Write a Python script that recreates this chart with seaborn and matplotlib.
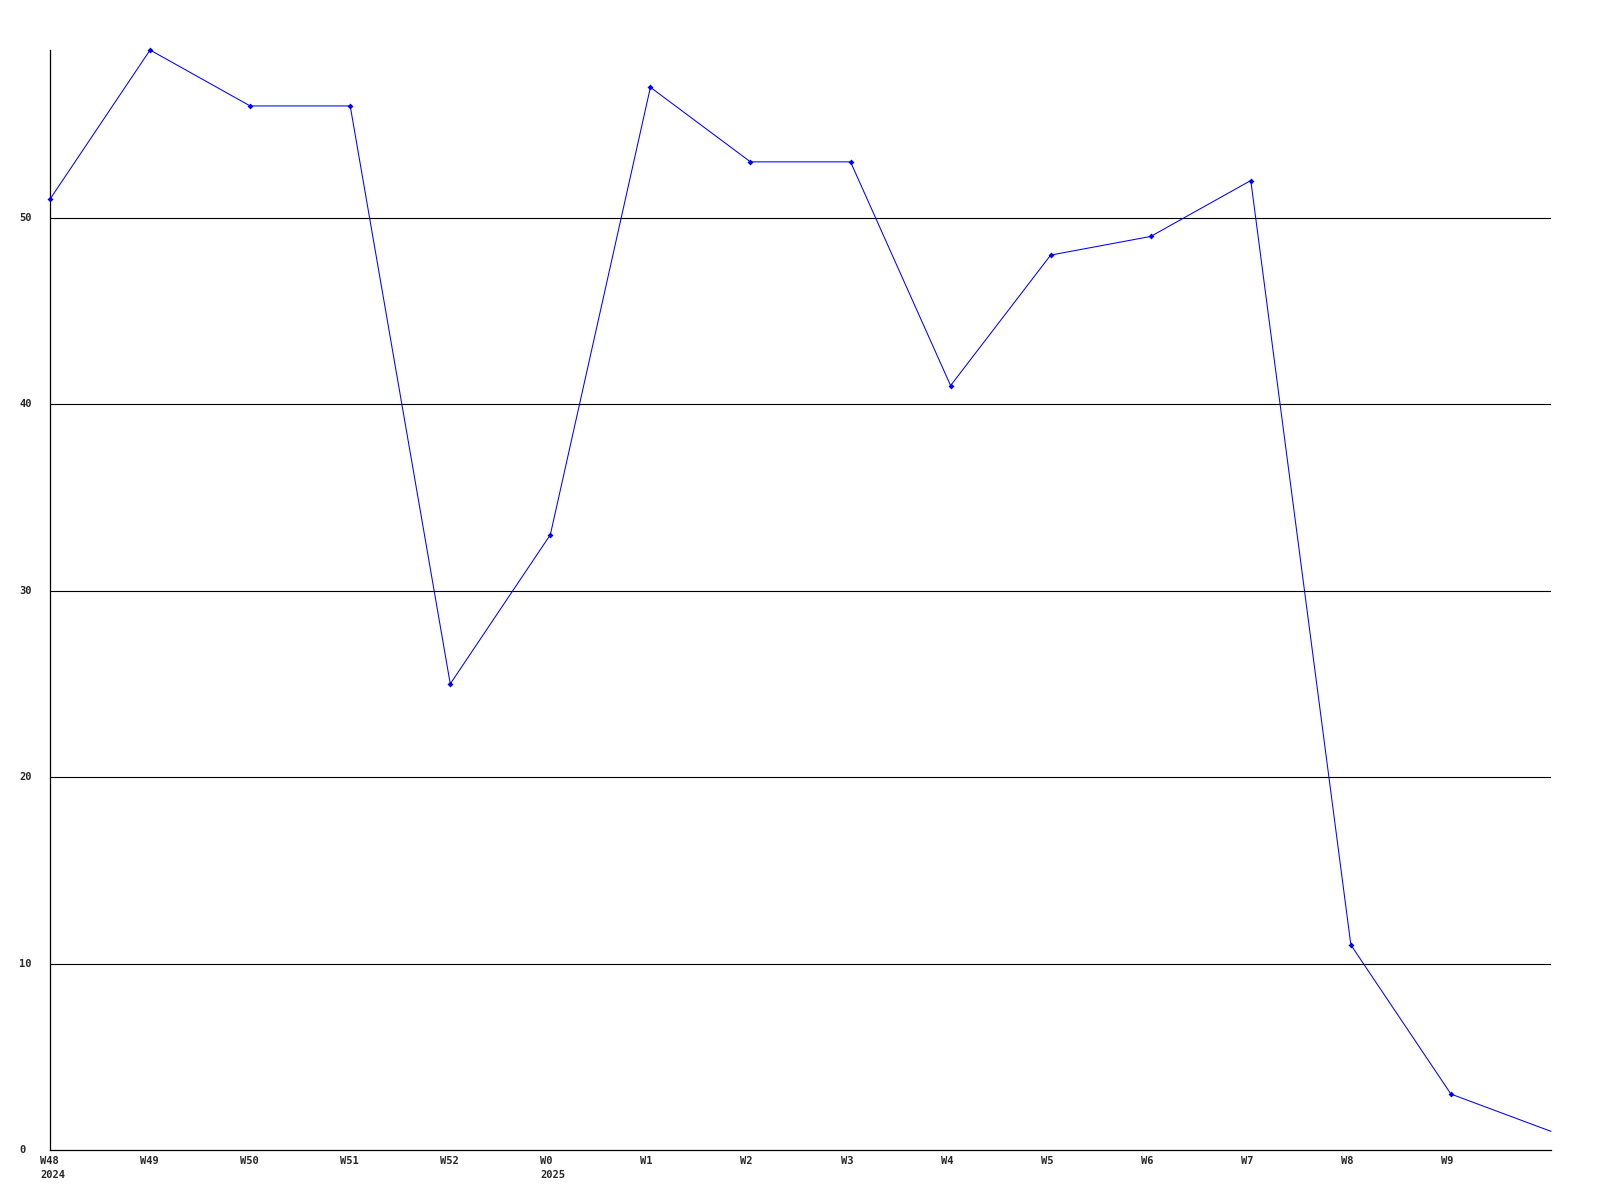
import matplotlib
matplotlib.use("Agg")
import matplotlib.pyplot as plt
import matplotlib.transforms as mtransforms
import seaborn as sns
import pandas as pd

weeks = ["W48\n2024", "W49", "W50", "W51", "W52", "W0\n2025", "W1", "W2", "W3",
         "W4", "W5", "W6", "W7", "W8", "W9", ""]
values = [51, 59, 56, 56, 25, 33, 57, 53, 53, 41, 48, 49, 52, 11, 3, 1]
yticks = [0, 10, 20, 30, 40, 50]

df = pd.DataFrame({"pos": list(range(len(values))), "value": values})

sns.set_style("white")
plt.rcParams["font.family"] = ["DejaVu Sans Mono"]

fig = plt.figure(figsize=(16, 12), dpi=100)
ax = fig.add_axes([50 / 1600, 50 / 1200, 1501 / 1600, 1100 / 1200])

for y in yticks[1:]:
    ax.axhline(y, color="black", linewidth=0.8, zorder=1)

sns.lineplot(data=df, x="pos", y="value", ax=ax, color="#0000ff", linewidth=0.75,
             marker="D", markersize=3, markeredgewidth=0, zorder=3, clip_on=False,
             markevery=list(range(len(values) - 1)))

ax.set_xlim(0, 15)
ax.set_ylim(0, 59)
ax.set_xlabel("")
ax.set_ylabel("")

for s in ["top", "right"]:
    ax.spines[s].set_visible(False)
for s in ["left", "bottom"]:
    ax.spines[s].set_color("black")
    ax.spines[s].set_linewidth(0.9)

ax.set_xticks(range(len(weeks) - 1))
ax.set_xticklabels(weeks[:-1], fontsize=7.5, fontweight="bold", ha="left",
                   va="top", linespacing=1.6)
ax.set_yticks(yticks)
ax.set_yticklabels([str(v) for v in yticks], fontsize=7.5, fontweight="bold",
                   ha="left", va="center")
ax.tick_params(axis="both", length=0)
ax.tick_params(axis="y", pad=22)
ax.tick_params(axis="x", pad=4)

off = mtransforms.ScaledTranslation(-10 / 100, 0, fig.dpi_scale_trans)
for lbl in ax.get_xticklabels():
    lbl.set_transform(lbl.get_transform() + off)

fig.savefig("out.png", dpi=100, facecolor="white")
